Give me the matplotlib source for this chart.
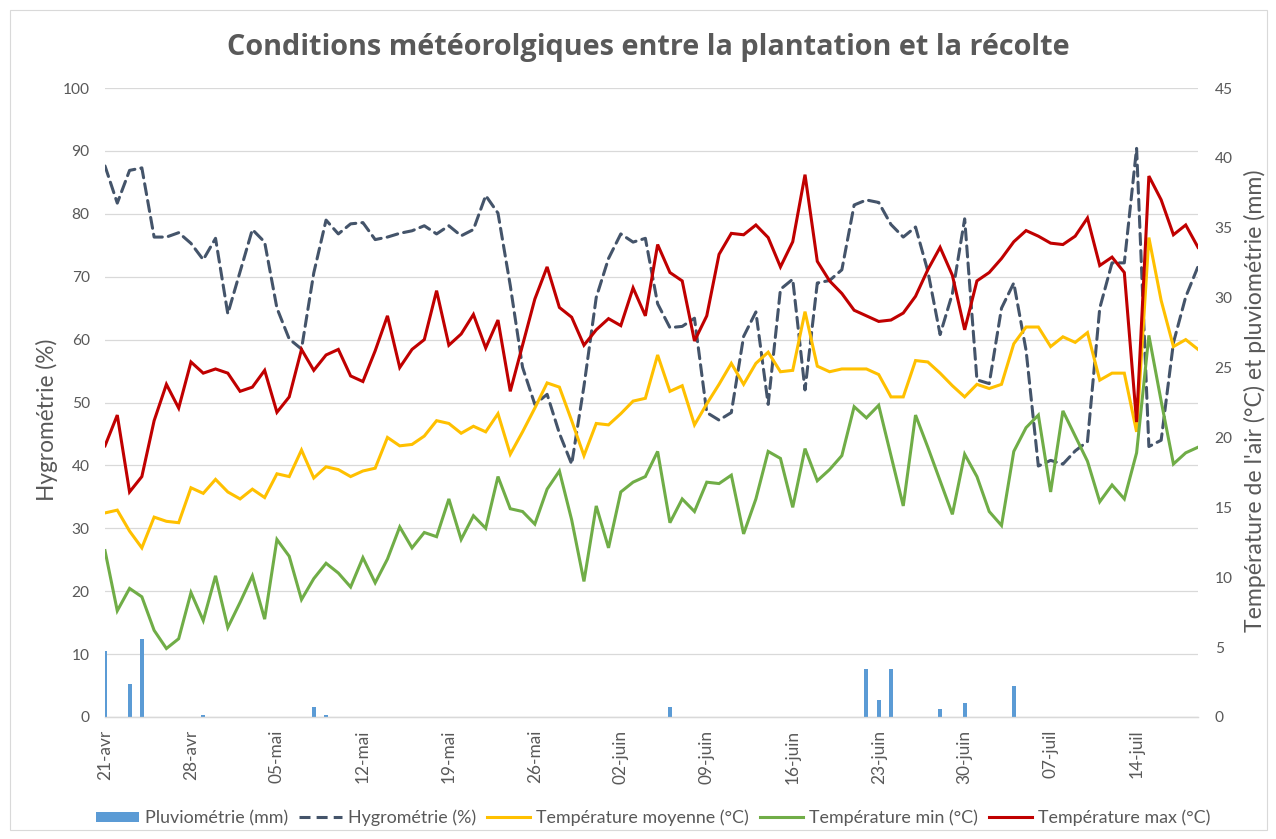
import numpy as np
import matplotlib
matplotlib.use("Agg")
import matplotlib.pyplot as plt
from matplotlib.patches import Rectangle
from matplotlib.lines import Line2D
from matplotlib.patches import Patch

# ---------------- data (daily, 21 Apr -> 19 Jul) ----------------
tick_labels = ["21-avr", "28-avr", "05-mai", "12-mai", "19-mai", "26-mai",
               "02-juin", "09-juin", "16-juin", "23-juin", "30-juin",
               "07-juil", "14-juil"]

hygro = [87.6, 81.7, 86.9, 87.3, 76.3, 76.3, 77.0, 75.3, 72.7, 76.1,
         64.1, 70.8, 77.5, 75.5, 65.0, 60.1, 58.5, 70.6, 79.0, 76.8,
         78.4, 78.6, 75.9, 76.3, 76.9, 77.3, 78.1, 76.8, 78.1, 76.5,
         77.5, 82.9, 80.1, 68.6, 55.6, 49.7, 51.3, 45.1, 40.2, 52.6,
         66.7, 72.9, 76.8, 75.5, 76.1, 65.7, 61.9, 62.1, 63.4, 48.4,
         47.2, 48.4, 60.5, 64.4, 49.7, 68.0, 69.6, 52.0, 69.0, 69.4,
         71.1, 81.4, 82.2, 81.8, 78.3, 76.3, 77.9, 70.9, 60.8, 67.3,
         79.2, 53.6, 53.0, 65.0, 69.0, 58.3, 39.9, 40.8, 40.2, 42.3,
         43.8, 65.0, 72.2, 72.2, 90.4, 43.0, 44.0, 59.5, 66.8, 71.6]

t_moy = [14.6, 14.8, 13.3, 12.1, 14.3, 14.0, 13.9, 16.4, 16.0, 17.0,
         16.1, 15.6, 16.3, 15.7, 17.4, 17.2, 19.1, 17.1, 17.9, 17.7,
         17.2, 17.6, 17.8, 20.0, 19.4, 19.5, 20.1, 21.2, 21.0, 20.3,
         20.8, 20.4, 21.7, 18.8, 20.4, 22.1, 23.9, 23.6, 21.2, 18.7,
         21.0, 20.9, 21.7, 22.6, 22.8, 25.9, 23.3, 23.7, 20.9, 22.4,
         23.8, 25.3, 23.8, 25.3, 26.1, 24.7, 24.8, 29.0, 25.1, 24.7,
         24.9, 24.9, 24.9, 24.5, 22.9, 22.9, 25.5, 25.4, 24.6, 23.7,
         22.9, 23.8, 23.5, 23.8, 26.7, 27.9, 27.9, 26.5, 27.2, 26.8,
         27.5, 24.1, 24.6, 24.6, 20.4, 34.3, 29.8, 26.5, 27.0, 26.3]

t_min = [11.9, 7.6, 9.2, 8.6, 6.2, 4.9, 5.6, 8.9, 6.9, 10.1,
         6.4, 8.2, 10.1, 7.0, 12.7, 11.5, 8.4, 9.9, 11.0, 10.3,
         9.3, 11.4, 9.6, 11.3, 13.6, 12.1, 13.2, 12.9, 15.6, 12.7,
         14.4, 13.5, 17.2, 14.9, 14.7, 13.8, 16.3, 17.6, 14.1, 9.7,
         15.1, 12.1, 16.1, 16.8, 17.2, 19.0, 13.9, 15.6, 14.7, 16.8,
         16.7, 17.3, 13.1, 15.6, 19.0, 18.5, 15.0, 19.2, 16.9, 17.7,
         18.7, 22.2, 21.4, 22.3, 18.7, 15.1, 21.6, 19.3, 16.9, 14.5,
         18.8, 17.2, 14.7, 13.7, 19.0, 20.7, 21.6, 16.1, 21.9, 20.1,
         18.3, 15.4, 16.6, 15.6, 18.9, 27.3, 22.6, 18.1, 18.9, 19.3]

t_max = [19.4, 21.6, 16.1, 17.2, 21.2, 23.8, 22.1, 25.4, 24.6, 24.9,
         24.6, 23.3, 23.6, 24.8, 21.8, 22.9, 26.3, 24.8, 25.9, 26.3,
         24.4, 24.0, 26.2, 28.7, 25.0, 26.3, 27.0, 30.5, 26.6, 27.4,
         28.8, 26.4, 28.4, 23.3, 26.6, 29.9, 32.2, 29.3, 28.6, 26.6,
         27.7, 28.5, 28.0, 30.7, 28.7, 33.8, 31.8, 31.2, 26.9, 28.7,
         33.1, 34.6, 34.5, 35.2, 34.3, 32.2, 34.0, 38.8, 32.6, 31.2,
         30.3, 29.1, 28.7, 28.3, 28.4, 28.9, 30.1, 32.0, 33.6, 31.6,
         27.7, 31.2, 31.8, 32.8, 34.0, 34.8, 34.4, 33.9, 33.8, 34.4,
         35.7, 32.3, 32.9, 31.8, 21.1, 38.7, 37.0, 34.5, 35.2, 33.6]

pluvio = [4.75, 0, 2.35, 5.55, 0, 0, 0, 0, 0.15, 0,
          0, 0, 0, 0, 0, 0, 0, 0.75, 0.15, 0,
          0, 0, 0, 0, 0, 0, 0, 0, 0, 0,
          0, 0, 0, 0, 0, 0, 0, 0, 0, 0,
          0, 0, 0, 0, 0, 0, 0.75, 0, 0, 0,
          0, 0, 0, 0, 0, 0, 0, 0, 0, 0,
          0, 0, 3.45, 1.2, 3.45, 0, 0, 0, 0.6, 0,
          1.0, 0, 0, 0, 2.2, 0, 0, 0, 0, 0,
          0, 0, 0, 0, 0, 0, 0, 0, 0, 0]

# ---------------- styling ----------------
W, H = 1276, 839
DPI = 100
TXT = "#595959"
GRID = "#D9D9D9"
C_BAR = "#5B9BD5"
C_HYG = "#44546A"
C_MOY = "#FFC000"
C_MIN = "#70AD47"
C_MAX = "#C00000"
FONT = ["Lato", "DejaVu Sans"]
plt.rcParams["font.family"] = FONT

fig = plt.figure(figsize=(W / DPI, H / DPI), dpi=DPI)
fig.patches.append(Rectangle((9.5 / W, 9.5 / H), (W - 19) / W, (H - 19) / H,
                             transform=fig.transFigure, fill=False,
                             edgecolor="#D9D9D9", linewidth=0.8))

x = np.arange(len(hygro))
L, R, B, T = 105, 1198, 717, 88
ax = fig.add_axes([L / W, 1 - B / H, (R - L) / W, (B - T) / H])
ax2 = ax.twinx()

# left axis: hygrometry
ax.set_xlim(0, len(hygro) - 1)
ax.set_ylim(0, 100)
ax.set_yticks(np.arange(0, 101, 10))
ax.grid(axis="y", color=GRID, linewidth=0.9)
ax.set_axisbelow(True)
lw = 2.2
ax.plot(x, hygro, color=C_HYG, linewidth=lw, dashes=(3.6, 2.0),
        dash_capstyle="round", solid_capstyle="round", zorder=3)

# right axis: temperatures & rain
ax2.set_ylim(0, 45)
ax2.set_yticks(np.arange(0, 46, 5))
ax2.bar(x, pluvio, width=0.33, color=C_BAR, zorder=1)
ax2.plot(x, t_moy, color=C_MOY, linewidth=lw, solid_joinstyle="miter", zorder=3)
ax2.plot(x, t_min, color=C_MIN, linewidth=lw, solid_joinstyle="miter", zorder=3)
ax2.plot(x, t_max, color=C_MAX, linewidth=lw, solid_joinstyle="miter", zorder=3)

ax.set_xticks(np.arange(0, len(hygro), 7))
ax.set_xticklabels(tick_labels, rotation=90, fontsize=12.4, color=TXT)

for a in (ax, ax2):
    for s in ("top", "left", "right"):
        a.spines[s].set_visible(False)
    a.spines["bottom"].set_color(GRID)
    a.spines["bottom"].set_linewidth(0.9)
    a.tick_params(axis="y", length=0, labelsize=11.2, labelcolor=TXT)
    a.tick_params(axis="x", length=0, labelcolor=TXT)
ax.tick_params(axis="y", pad=11)
ax2.tick_params(axis="y", pad=12)
ax.tick_params(axis="x", pad=9)

fig.text(47 / W, 1 - 420 / H, "Hygrométrie (%)", rotation=90, fontsize=16.3,
         color=TXT, ha="center", va="center")
fig.text(1255 / W, 1 - 401 / H, "Température de l'air (°C) et pluviométrie (mm)",
         rotation=90, fontsize=16.6, color=TXT, ha="center", va="center")

fig.text(648 / W, 1 - 47 / H,
         "Conditions météorolgiques entre la plantation et la récolte",
         ha="center", va="center", fontsize=20.8, fontweight="bold", color=TXT,
         family=["Open Sans", "DejaVu Sans"])

handles = [Patch(facecolor=C_BAR, edgecolor="none"),
           Line2D([], [], color=C_HYG, linewidth=lw, dashes=(3.6, 2.0)),
           Line2D([], [], color=C_MOY, linewidth=lw),
           Line2D([], [], color=C_MIN, linewidth=lw),
           Line2D([], [], color=C_MAX, linewidth=lw)]
labels = ["Pluviométrie (mm)", "Hygrométrie (%)", "Température moyenne (°C)",
          "Température min (°C)", "Température max (°C)"]
leg = fig.legend(handles, labels, loc="center", ncol=5,
                 bbox_to_anchor=(653 / W, 1 - 818 / H), frameon=False,
                 fontsize=12.9, handlelength=2.4, handleheight=0.55,
                 columnspacing=0.6, handletextpad=0.35)
for t in leg.get_texts():
    t.set_color(TXT)

fig.savefig("out.png", dpi=DPI)
